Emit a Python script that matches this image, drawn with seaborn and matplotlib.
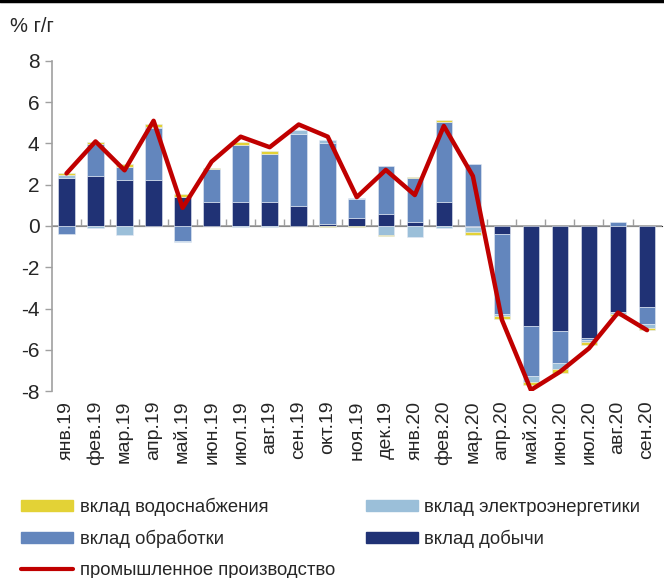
"""
Вклад видов деятельности в промышленное производство, % г/г
"""

import numpy as np
import pandas as pd
import matplotlib
matplotlib.use("Agg")
import matplotlib.pyplot as plt
from matplotlib.lines import Line2D
from matplotlib.patches import Patch
import seaborn as sns

# ── Data ───────────────────────────────────────────────────────────────────────
months = ["янв.19", "фев.19", "мар.19", "апр.19", "май.19", "июн.19", "июл.19",
          "авг.19", "сен.19", "окт.19", "ноя.19", "дек.19", "янв.20", "фев.20",
          "мар.20", "апр.20", "май.20", "июн.20", "июл.20", "авг.20", "сен.20"]

mining = [2.31, 2.43, 2.24, 2.24, 1.40, 1.18, 1.14, 1.14, 0.95, 0.10, 0.41,
          0.59, 0.20, 1.18, -0.05, -0.38, -4.87, -5.08, -5.45, -4.16, -3.94]
manufacturing = [-0.37, 1.56, 0.61, 2.50, -0.75, 1.57, 2.81, 2.36, 3.51, 3.92, 0.91,
                 2.30, 2.11, 3.86, 2.99, -3.88, -2.40, -1.57, -0.07, 0.18, -0.82]
electricity = [0.17, -0.08, -0.46, 0.05, -0.05, 0.02, -0.07, -0.03, 0.19, 0.13, 0.02,
               -0.45, -0.52, -0.08, -0.25, -0.08, -0.27, -0.30, -0.12, -0.11, -0.20]
water = [0.08, 0.07, 0.17, 0.14, 0.13, 0.06, 0.10, 0.13, 0.01, -0.05, -0.05,
         -0.03, 0.07, 0.09, -0.12, -0.18, -0.17, -0.16, -0.15, -0.11, -0.09]
industry = [2.55, 4.10, 2.70, 5.10, 0.88, 3.12, 4.33, 3.82, 4.92, 4.33, 1.40,
            2.72, 1.50, 4.85, 2.42, -4.55, -7.95, -7.07, -5.93, -4.20, -5.05]

# ── Config ─────────────────────────────────────────────────────────────────────
C_MINING = "#203275"
C_MANUF  = "#6386BD"
C_ELEC   = "#9BBFD9"
C_WATER  = "#E3D236"
C_LINE   = "#C00000"
FONT     = ["Liberation Sans", "DejaVu Sans"]

sns.set_style("white")
plt.rcParams["font.family"] = FONT

fig = plt.figure(figsize=(6.64, 5.78), dpi=100)
ax = fig.add_axes([0.0783, 0.3235, 0.918, 0.571])

x = np.arange(len(months))
layers = [
    (mining, C_MINING),
    (manufacturing, C_MANUF),
    (electricity, C_ELEC),
    (water, C_WATER),
]

# stacked bars, positives upwards and negatives downwards
pos_base = np.zeros(len(months))
neg_base = np.zeros(len(months))
for vals, color in layers:
    vals = np.asarray(vals)
    base = np.where(vals >= 0, pos_base, neg_base)
    ax.bar(x, vals, bottom=base, width=0.57, color=color,
           edgecolor="#E4EAF4", linewidth=0.4, zorder=2)
    pos_base += np.where(vals >= 0, vals, 0)
    neg_base += np.where(vals < 0, vals, 0)

line_df = pd.DataFrame({"x": x, "value": industry})
sns.lineplot(data=line_df, x="x", y="value", color=C_LINE, lw=3.2,
             ax=ax, zorder=3, legend=False)

# ── Axes ───────────────────────────────────────────────────────────────────────
ax.set_xlim(-0.5, len(months) - 0.5)
ax.set_ylim(-8, 8)
ax.set_yticks(np.arange(-8, 9, 2))
ax.set_yticklabels([str(v) for v in range(-8, 9, 2)], fontsize=15)
ax.set_xticks(x)
ax.set_xticklabels(months, rotation=90, fontsize=14)
ax.tick_params(axis="x", length=0, pad=7)
ax.tick_params(axis="y", direction="out", length=5, width=1, color="#A0A0A0",
               left=True, pad=4)
ax.set_xlabel("")
ax.set_ylabel("")

for side in ["top", "right", "bottom"]:
    ax.spines[side].set_visible(False)
ax.spines["left"].set_color("#A0A0A0")
ax.spines["left"].set_linewidth(1.2)

ax.axhline(0, color="#A0A0A0", lw=1.2, zorder=1)
sec = ax.secondary_xaxis(0.5)
sec.set_xticks(np.arange(0.5, len(months) - 0.5, 1.0))
sec.set_xticklabels([])
sec.tick_params(direction="out", length=5, width=1, color="#A0A0A0")
sec.spines["bottom"].set_visible(False)

fig.text(0.015, 0.955, "% г/г", fontsize=14.5, va="center", ha="left")

# top border line
fig.add_artist(Line2D([0, 1], [0.998, 0.998], color="black", lw=2.5,
                      transform=fig.transFigure))

# ── Legend ─────────────────────────────────────────────────────────────────────
# column-wise fill: left column first, then right column
handles = [
    Patch(color=C_WATER, label="вклад водоснабжения"),
    Patch(color=C_MANUF, label="вклад обработки"),
    Line2D([0], [0], color=C_LINE, lw=3, label="промышленное производство"),
    Patch(color=C_ELEC, label="вклад электроэнергетики"),
    Patch(color=C_MINING, label="вклад добычи"),
]
fig.legend(handles=handles, loc="upper left", bbox_to_anchor=(0.021, 0.152),
           ncol=2, frameon=False, fontsize=13.3, handlelength=2.8,
           handleheight=0.55, handletextpad=0.35, columnspacing=1.7,
           labelspacing=0.76, borderaxespad=0)

fig.savefig("out.png", dpi=100)
